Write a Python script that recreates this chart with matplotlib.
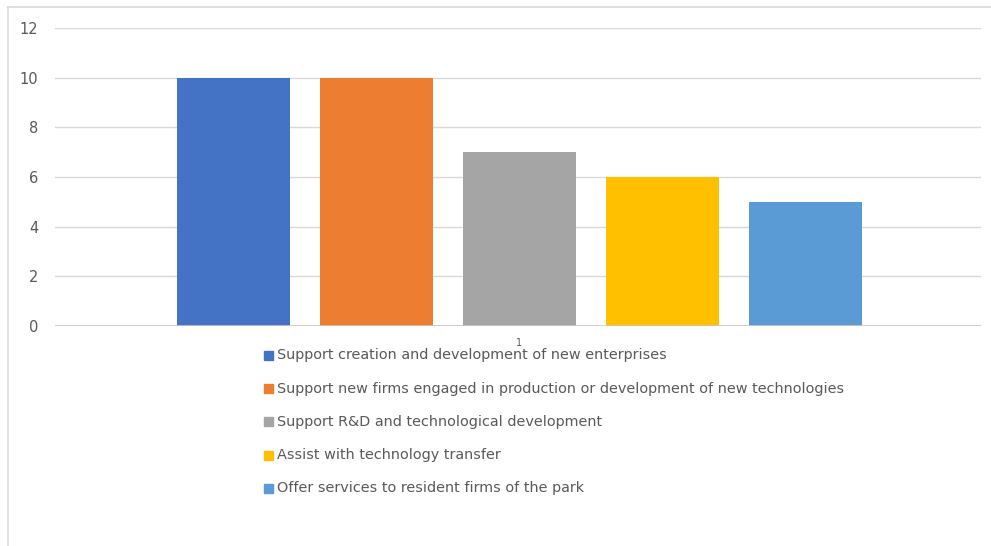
import matplotlib.pyplot as plt
from matplotlib.patches import Rectangle
from matplotlib.lines import Line2D

category = "1"
series = [
    "Support creation and development of new enterprises",
    "Support new firms engaged in production or development of new technologies",
    "Support R&D and technological development",
    "Assist with technology transfer",
    "Offer services to resident firms of the park",
]
values = [10, 10, 7, 6, 5]
colors = ["#4472C4", "#ED7D31", "#A5A5A5", "#FFC000", "#5B9BD5"]
yticks = [0, 2, 4, 6, 8, 10, 12]

W, H = 991, 546
fig = plt.figure(figsize=(W / 100, H / 100), dpi=100)
plt.rcParams["font.family"] = ["DejaVu Sans"]

# chart area border (left and top edges only show)
fig.add_artist(Line2D([8 / W, 8 / W], [0, 1 - 7 / H], transform=fig.transFigure,
                      color="#D9D9D9", lw=1.2))
fig.add_artist(Line2D([8 / W, 1], [1 - 7 / H, 1 - 7 / H], transform=fig.transFigure,
                      color="#D9D9D9", lw=1.2))

x0, x1 = 55, 981
ax = fig.add_axes([x0 / W, 1 - 326 / H, (x1 - x0) / W, (326 - 28) / H])

plot_w = x1 - x0
bar_w = 113 / plot_w
step = 143 / plot_w
center = (519.5 - x0) / plot_w
for i, (name, v, c) in enumerate(zip(series, values, colors)):
    ax.bar(center + (i - 2) * step, v, width=bar_w, color=c, label=name, zorder=3)

ax.set_xlim(0, 1)
ax.set_ylim(0, 12)
ax.set_yticks(yticks)
ax.set_yticklabels([str(t) for t in yticks], fontsize=10.5, color="#595959")
ax.tick_params(axis="y", length=0, pad=12)
ax.set_xticks([center])
ax.set_xticklabels([category], fontsize=7, color="#595959")
ax.tick_params(axis="x", length=0, pad=9)
for s in ax.spines.values():
    s.set_visible(False)
ax.grid(axis="y", color="#D9D9D9", lw=1, zorder=0)
ax.axhline(0, color="#C8C8C8", lw=1.2, zorder=4)

# legend: stacked entries below the plot
for i, (name, c) in enumerate(zip(series, colors)):
    y = 355.5 + i * 33.2
    fig.add_artist(Rectangle((264 / W, 1 - (y + 4.5) / H), 9 / W, 9 / H,
                             transform=fig.transFigure, color=c))
    fig.text(277 / W, 1 - y / H, name, fontsize=10.4, color="#595959",
             va="center", ha="left")

fig.savefig("out.png", dpi=100)
